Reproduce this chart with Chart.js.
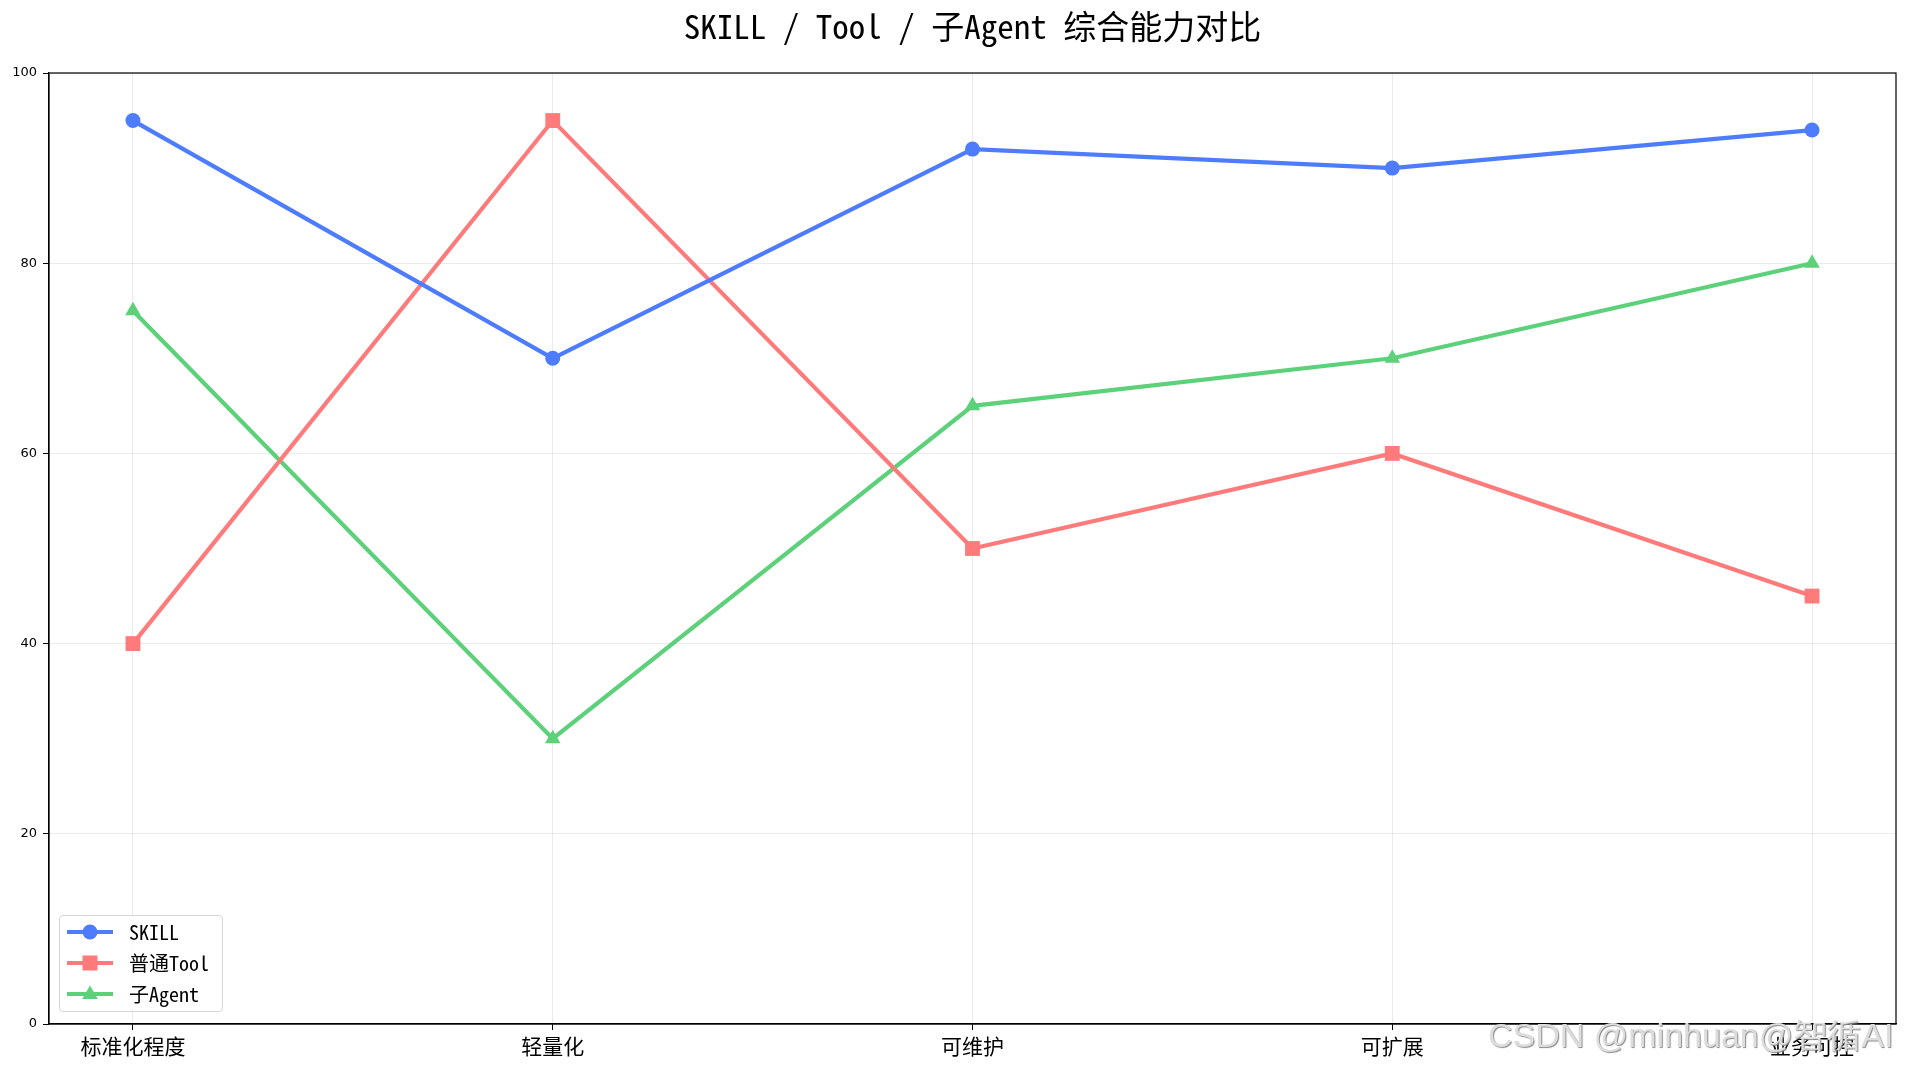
<!DOCTYPE html>
<html>
<head>
<meta charset="utf-8">
<script src="https://cdn.jsdelivr.net/npm/chart.js@4"></script>
<style>
    html, body { margin: 0; padding: 0; background: #fff; overflow: hidden; }
    #wrap { position: relative; width: 1907px; height: 1068px; }
    #legenda {
        position: absolute; left: 59px; top: 915px; width: 162px; height: 95px;
        border: 1px solid #d6d6d6; border-radius: 4px; background: rgba(255,255,255,0.85);
        font-family: "Noto Sans Mono CJK SC", "Noto Sans CJK SC", sans-serif; font-size: 20px; color: #000;
    }
    .item { position: absolute; left: 0; height: 31px; display: flex; align-items: center; }
    .item svg { margin-left: 7px; margin-right: 16px; }
    #marca {
        position: absolute; left: 1488px; top: 1013px; white-space: nowrap;
        font-family: "Liberation Sans", Arial, sans-serif; font-size: 34px;
        color: #dddddd; text-shadow: 1px 1px 1px #8a8a8a;
    }
</style>
</head>
<body>
<div id="wrap">
    <canvas id="grafico" width="1907" height="1068"></canvas>
    <div id="legenda"></div>
    <div id="marca">CSDN @minhuan@智循AI</div>
</div>
<script>
const categorias = ['标准化程度', '轻量化', '可维护', '可扩展', '业务可控'];
const valoresSkill = [95, 70, 92, 90, 94];
const valoresTool = [40, 95, 50, 60, 45];
const valoresAgent = [75, 30, 65, 70, 80];
const ticksY = [0, 20, 40, 60, 80, 100];

const fonteCJK = '"Noto Sans Mono CJK SC", "Noto Sans CJK SC", sans-serif';

const series = [
    { nome: 'SKILL', valores: valoresSkill, cor: '#4e7cff', ponto: 'circle', raio: 7.5 },
    { nome: '普通Tool', valores: valoresTool, cor: '#ff7b7b', ponto: 'rect', raio: 10.5 },
    { nome: '子Agent', valores: valoresAgent, cor: '#5cd17a', ponto: 'triangle', raio: 9 }
];

const caixa = {
    id: 'caixa',
    afterDraw(chart) {
        const a = chart.chartArea;
        const ctx = chart.ctx;
        ctx.save();
        ctx.strokeStyle = '#000';
        ctx.lineWidth = 1.2;
        ctx.strokeRect(a.left, a.top, a.right - a.left, a.bottom - a.top);
        ctx.restore();
    }
};

const ctx = document.getElementById('grafico').getContext('2d');

const grafico = new Chart(ctx, {
    type: 'line',
    data: {
        datasets: series.map(s => ({
            label: s.nome,
            data: s.valores.map((v, i) => ({ x: i, y: v })),
            borderColor: s.cor,
            backgroundColor: s.cor,
            borderWidth: 4.2,
            pointStyle: s.ponto,
            pointRadius: s.raio,
            pointHoverRadius: s.raio,
            pointBorderWidth: 0,
            tension: 0
        }))
    },
    options: {
        responsive: false,
        animation: false,
        layout: { padding: { left: 0, right: 11, top: 0, bottom: 0 } },
        plugins: {
            legend: { display: false },
            tooltip: { enabled: false },
            title: {
                display: true,
                fullSize: false,
                text: 'SKILL / Tool / 子Agent 综合能力对比',
                color: '#000',
                font: { family: fonteCJK, size: 33, weight: 'normal' },
                padding: { top: 7, bottom: 26.4 }
            }
        },
        scales: {
            x: {
                type: 'linear',
                min: -0.2,
                max: 4.2,
                afterBuildTicks: (scale) => { scale.ticks = categorias.map((_, i) => ({ value: i })); },
                afterFit: (scale) => { scale.height = 44; },
                grid: { color: 'rgba(0,0,0,0.08)', tickColor: '#000', tickLength: 6 },
                border: { color: '#000', width: 1.2 },
                ticks: {
                    autoSkip: false, maxRotation: 0, padding: 3, color: '#000',
                    font: { family: fonteCJK, size: 21 },
                    callback: (v) => categorias[v]
                }
            },
            y: {
                min: 0,
                max: 100,
                afterBuildTicks: (scale) => { scale.ticks = ticksY.map(v => ({ value: v })); },
                afterFit: (scale) => { scale.width = 49; },
                grid: { color: 'rgba(0,0,0,0.08)', tickColor: '#000', tickLength: 6 },
                border: { color: '#000', width: 1.2 },
                ticks: {
                    padding: 6, color: '#000',
                    font: { family: '"DejaVu Sans", sans-serif', size: 13 }
                }
            }
        }
    },
    plugins: [caixa]
});

// legenda em HTML dentro da area do grafico
const legenda = document.getElementById('legenda');
series.forEach((s, i) => {
    const item = document.createElement('div');
    item.className = 'item';
    item.style.top = (0 + i * 31) + 'px';
    let marcador = '';
    if (s.ponto === 'circle') marcador = `<circle cx="23" cy="10" r="7.5" fill="${s.cor}"/>`;
    if (s.ponto === 'rect') marcador = `<rect x="15.5" y="2.5" width="15" height="15" fill="${s.cor}"/>`;
    if (s.ponto === 'triangle') marcador = `<polygon points="23,1.5 30.8,15 15.2,15" fill="${s.cor}"/>`;
    item.innerHTML = `<svg width="46" height="20"><line x1="0" y1="10" x2="46" y2="10" stroke="${s.cor}" stroke-width="4"/>${marcador}</svg><span>${s.nome}</span>`;
    legenda.appendChild(item);
});
</script>
</body>
</html>
